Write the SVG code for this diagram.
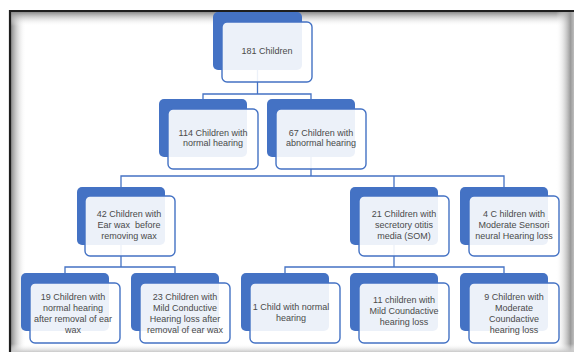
<svg xmlns="http://www.w3.org/2000/svg" width="574" height="352" viewBox="0 0 574 352">
<defs>
<style>
.back{fill:#4472c4}
.front{fill:#ffffff;fill-opacity:0.9;stroke:#4472c4;stroke-width:1.4}
.lbl{font-family:"Liberation Sans",Arial,sans-serif;font-size:9px;fill:#4a4a4a;text-anchor:middle}
.conn{fill:none;stroke:#4472c4;stroke-width:1.3}
</style>
<linearGradient id="gl" x1="0" y1="0" x2="1" y2="0"><stop offset="0" stop-color="#8a8a8a"/><stop offset="1" stop-color="#ffffff" stop-opacity="0"/></linearGradient>
<linearGradient id="gt" x1="0" y1="0" x2="0" y2="1"><stop offset="0" stop-color="#8a8a8a"/><stop offset="1" stop-color="#ffffff" stop-opacity="0"/></linearGradient>
<linearGradient id="gr" x1="0" y1="0" x2="1" y2="0"><stop offset="0" stop-color="#ffffff" stop-opacity="0"/><stop offset="0.8" stop-color="#9a9a9a"/><stop offset="1" stop-color="#bdbdbd"/></linearGradient>
<linearGradient id="gb" x1="0" y1="0" x2="0" y2="1"><stop offset="0" stop-color="#ffffff" stop-opacity="0"/><stop offset="1" stop-color="#c8c8c8"/></linearGradient>
</defs>
<rect x="0" y="0" width="574" height="352" fill="#ffffff"/>
<g id="frame">
<rect x="11" y="12" width="15" height="340" fill="url(#gl)"/>
<rect x="11" y="12" width="563" height="14" fill="url(#gt)"/>
<rect x="556" y="12" width="18" height="340" fill="url(#gr)"/>
<rect x="11" y="344" width="563" height="8" fill="url(#gb)"/>
<path d="M10 352 V11 H574" fill="none" stroke="#1e1e1e" stroke-width="2.2"/>
</g>
<g id="connectors" class="conn">
<path d="M257.5 70 V94 M203 99 V94 H311 V99"/>
<path d="M311 157 V176 M121 187 V176 H504 V187 M394 176 V187"/>
<path d="M121 245 V267 M65 273 V267 H175 V273"/>
<path d="M394 245 V267 M285 273 V267 H504 V273"/>
</g>
<g id="n181"><rect class="back" x="213" y="12" width="89" height="58" rx="5"/><rect class="front" x="222" y="22" width="90" height="60" rx="5"/><text class="lbl" x="267" y="54">181 Children</text></g>
<g id="n114"><rect class="back" x="159" y="99" width="88" height="58" rx="5"/><rect class="front" x="168" y="109" width="90" height="60" rx="5"/><text class="lbl" x="213" y="136">114 Children with</text><text class="lbl" x="213" y="146">normal hearing</text></g>
<g id="n67"><rect class="back" x="267" y="99" width="88" height="58" rx="5"/><rect class="front" x="276" y="109" width="90" height="60" rx="5"/><text class="lbl" x="321" y="136">67 Children with</text><text class="lbl" x="321" y="146">abnormal hearing</text></g>
<g id="n42"><rect class="back" x="77" y="187" width="88" height="58" rx="5"/><rect class="front" x="85" y="196" width="90" height="60" rx="5"/><text class="lbl" x="129" y="217">42 Children with</text><text class="lbl" x="129" y="228">Ear wax&#160; before</text><text class="lbl" x="129" y="239">removing wax</text></g>
<g id="n21"><rect class="back" x="350" y="187" width="88" height="58" rx="5"/><rect class="front" x="359" y="196" width="90" height="60" rx="5"/><text class="lbl" x="404" y="217">21 Children with</text><text class="lbl" x="404" y="228">secretory otitis</text><text class="lbl" x="404" y="239">media (SOM)</text></g>
<g id="n4"><rect class="back" x="460" y="187" width="88" height="58" rx="5"/><rect class="front" x="469" y="196" width="90" height="60" rx="5"/><text class="lbl" x="514" y="217">4 C hildren with</text><text class="lbl" x="514" y="228">Moderate Sensori</text><text class="lbl" x="514" y="239">neural Hearing loss</text></g>
<g id="n19"><rect class="back" x="21" y="273" width="88" height="58" rx="5"/><rect class="front" x="30" y="283" width="90" height="60" rx="5"/><text class="lbl" x="73" y="299.5">19 Children with</text><text class="lbl" x="73" y="310.5">normal hearing</text><text class="lbl" x="73" y="321.5">after removal of ear</text><text class="lbl" x="73" y="332.5">wax</text></g>
<g id="n23"><rect class="back" x="131" y="273" width="88" height="58" rx="5"/><rect class="front" x="140" y="283" width="90" height="60" rx="5"/><text class="lbl" x="185" y="299.5">23 Children with</text><text class="lbl" x="185" y="310.5">Mild Conductive</text><text class="lbl" x="185" y="321.5">Hearing loss after</text><text class="lbl" x="185" y="332.5">removal of ear wax</text></g>
<g id="n1"><rect class="back" x="241" y="273" width="88" height="58" rx="5"/><rect class="front" x="250" y="283" width="90" height="60" rx="5"/><text class="lbl" x="291" y="310">1 Child with normal</text><text class="lbl" x="291" y="321">hearing</text></g>
<g id="n11"><rect class="back" x="350" y="273" width="88" height="58" rx="5"/><rect class="front" x="359" y="283" width="90" height="60" rx="5"/><text class="lbl" x="404" y="303">11 children with</text><text class="lbl" x="404" y="314">Mild Coundactive</text><text class="lbl" x="404" y="325">hearing loss</text></g>
<g id="n9"><rect class="back" x="460" y="273" width="88" height="58" rx="5"/><rect class="front" x="469" y="283" width="90" height="60" rx="5"/><text class="lbl" x="514" y="299.5">9 Children with</text><text class="lbl" x="514" y="310.5">Moderate</text><text class="lbl" x="514" y="321.5">Coundactive</text><text class="lbl" x="514" y="332.5">hearing loss</text></g>
</svg>
